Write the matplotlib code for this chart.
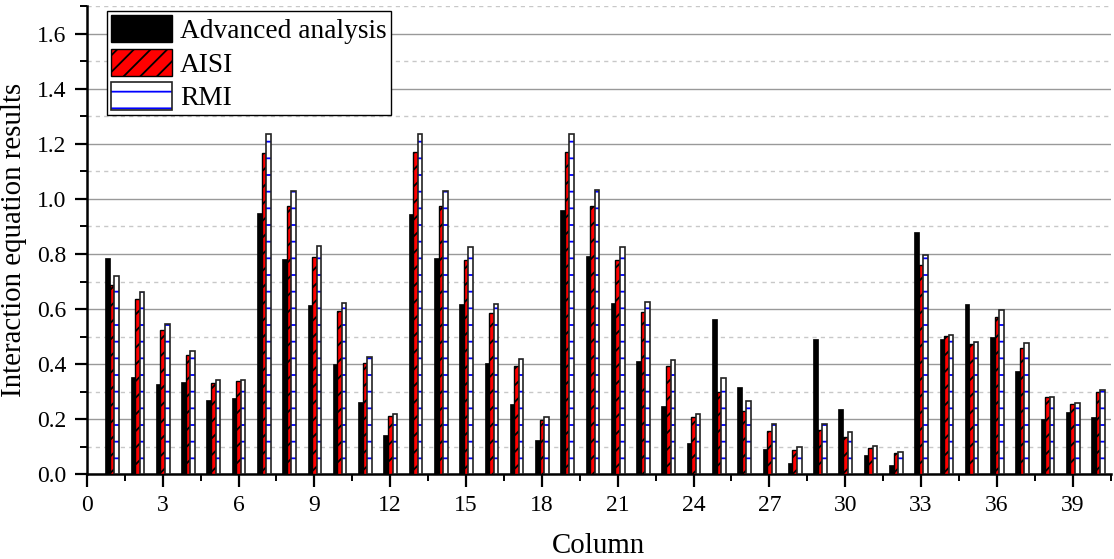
import matplotlib
matplotlib.use("Agg")
import matplotlib.pyplot as plt
import numpy as np
from matplotlib.patches import Patch
from matplotlib.legend_handler import HandlerTuple
from matplotlib.ticker import MultipleLocator

columns = list(range(1, 41))
advanced = [0.786, 0.354, 0.329, 0.334, 0.270, 0.277, 0.948, 0.783, 0.615, 0.399,
            0.264, 0.144, 0.946, 0.786, 0.619, 0.404, 0.254, 0.124, 0.960, 0.792,
            0.623, 0.411, 0.247, 0.115, 0.563, 0.317, 0.093, 0.041, 0.491, 0.238,
            0.071, 0.034, 0.881, 0.491, 0.617, 0.498, 0.376, 0.201, 0.227, 0.209]
aisi = [0.688, 0.637, 0.525, 0.433, 0.333, 0.339, 1.168, 0.976, 0.788, 0.593,
        0.405, 0.210, 1.170, 0.975, 0.780, 0.585, 0.394, 0.197, 1.170, 0.975,
        0.780, 0.590, 0.392, 0.208, 0.300, 0.231, 0.158, 0.087, 0.161, 0.137,
        0.094, 0.077, 0.759, 0.503, 0.475, 0.570, 0.460, 0.282, 0.256, 0.300]
rmi = [0.720, 0.663, 0.546, 0.449, 0.342, 0.344, 1.234, 1.030, 0.829, 0.623,
       0.426, 0.220, 1.234, 1.030, 0.825, 0.619, 0.417, 0.207, 1.234, 1.031,
       0.826, 0.624, 0.414, 0.219, 0.348, 0.265, 0.181, 0.098, 0.184, 0.153,
       0.104, 0.082, 0.795, 0.507, 0.481, 0.595, 0.478, 0.282, 0.258, 0.306]
series_labels = ["Advanced analysis", "AISI", "RMI"]
x_ticks = list(range(0, 40, 3))
y_ticks = [0.0, 0.2, 0.4, 0.6, 0.8, 1.0, 1.2, 1.4, 1.6]

plt.rcParams['font.family'] = ['Liberation Serif', 'DejaVu Serif']
plt.rcParams['hatch.linewidth'] = 1.3

fig = plt.figure(figsize=(11.14, 5.59), dpi=100)
ax = fig.add_axes([0.078, 0.1515, 0.919, 0.8375])

x = np.array(columns, dtype=float)
w = 0.18
ax.bar(x - w, advanced, width=w, color='black', edgecolor='black', linewidth=0.5, zorder=3)
ax.bar(x, aisi, width=w, color='#ff0000', edgecolor='black', hatch='//', linewidth=1.0, zorder=3)
ax.bar(x + w, rmi, width=w, color='white', edgecolor='#0000ff', hatch='-', linewidth=0, zorder=3)
ax.bar(x + w, rmi, width=w, facecolor='none', edgecolor='#222222', linewidth=1.2, zorder=4)

ax.set_xlim(0, 40.5)
ax.set_ylim(0, 1.7)
ax.xaxis.set_minor_locator(MultipleLocator(1.5))
ax.yaxis.set_minor_locator(MultipleLocator(0.1))
ax.set_xticks(x_ticks)
ax.set_xticklabels([str(t) for t in x_ticks])
ax.set_yticks(y_ticks)
ax.set_yticklabels([f"{v:.1f}" for v in y_ticks])

ax.grid(axis='y', which='major', color='#999999', linewidth=1.0, zorder=0)
ax.grid(axis='y', which='minor', color='#c8c8c8', linewidth=1.0, linestyle=(0, (3, 3)), zorder=0)
ax.set_axisbelow(True)

for s in ['top', 'right']:
    ax.spines[s].set_visible(False)
for s in ['left', 'bottom']:
    ax.spines[s].set_linewidth(1.8)
ax.tick_params(axis='both', which='major', direction='out', length=9, width=1.6, labelsize=17, pad=6)
ax.tick_params(axis='both', which='minor', direction='out', length=5, width=1.4)

ax.set_xlabel("Column", fontsize=20.8, labelpad=12)
ax.set_ylabel("Interaction equation results", fontsize=20.8, labelpad=7)

h1 = Patch(facecolor='black', edgecolor='black')
h2 = Patch(facecolor='#ff0000', edgecolor='black', hatch='//', linewidth=1.0)
h3a = Patch(facecolor='white', edgecolor='#0000ff', hatch='-', linewidth=0)
h3b = Patch(facecolor='none', edgecolor='#222222', linewidth=1.2)
leg = ax.legend([h1, h2, (h3a, h3b)], series_labels, handler_map={tuple: HandlerTuple(ndivide=1)},
                loc='upper left', bbox_to_anchor=(0.02, 0.99), fontsize=19.7, frameon=True,
                fancybox=False, edgecolor='black', framealpha=1, borderpad=0.15,
                labelspacing=0.18, handlelength=2.2, handleheight=1.15, handletextpad=0.3,
                borderaxespad=0.0)
leg.get_frame().set_linewidth(1.0)
leg.set_zorder(10)

fig.savefig("out.png", dpi=100)
